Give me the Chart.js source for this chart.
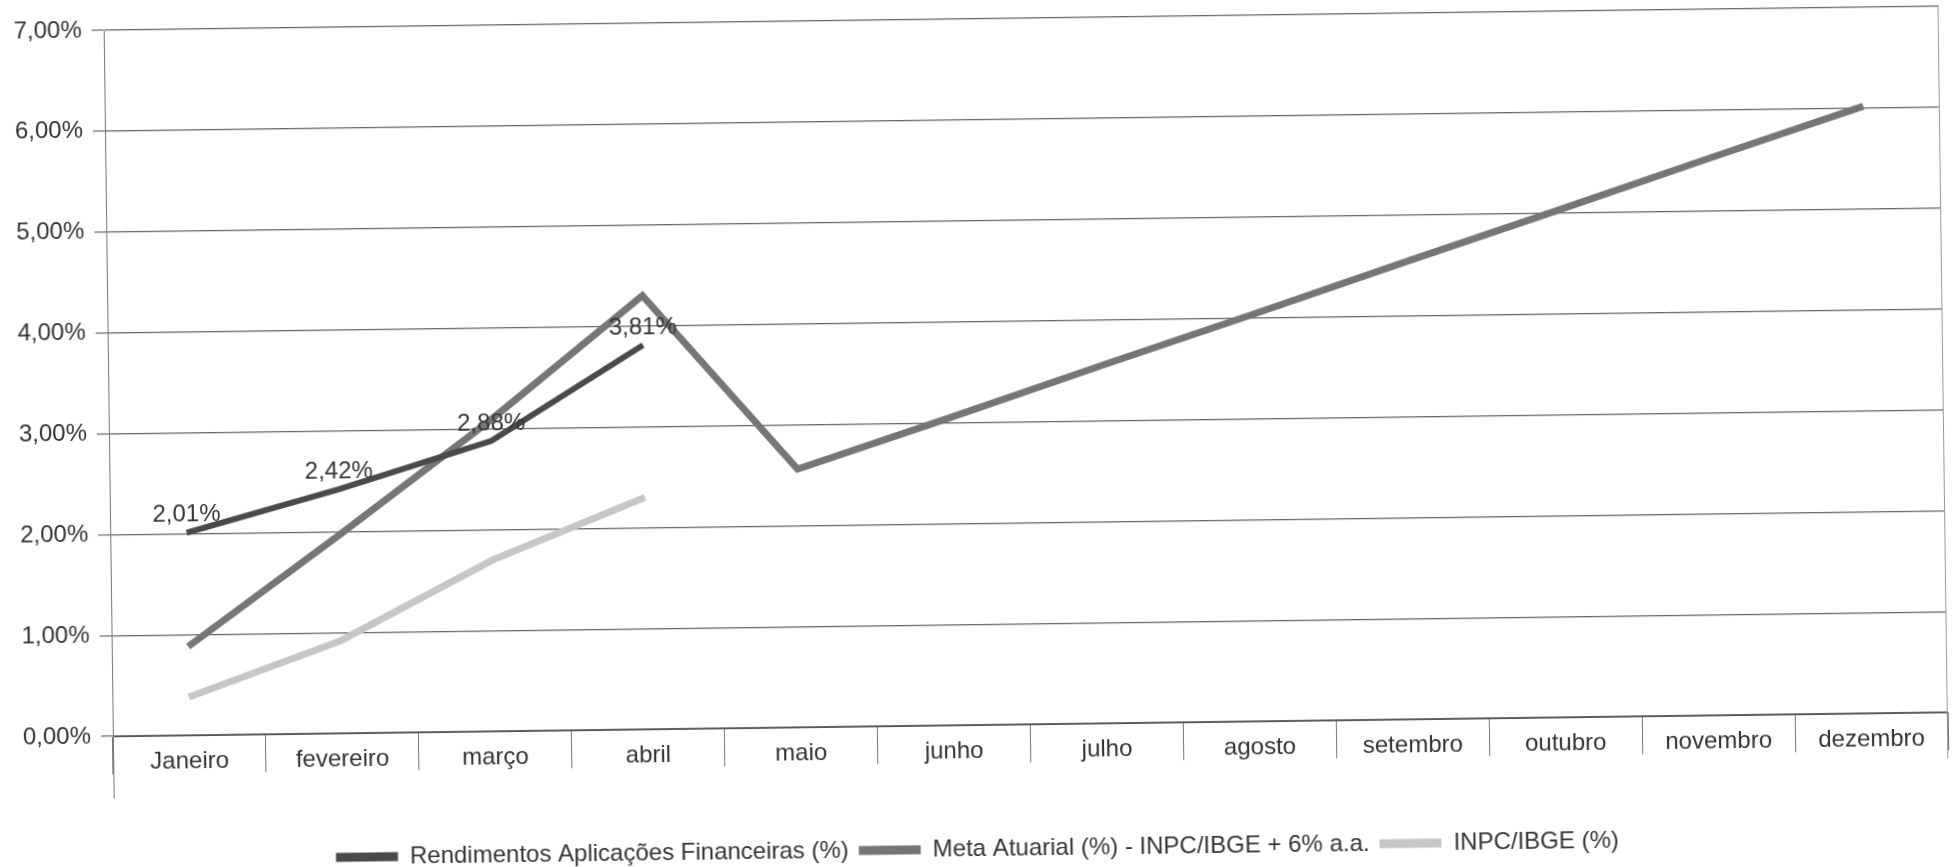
<!DOCTYPE html>
<html lang="pt-BR">
<head>
<meta charset="utf-8">
<title>Rendimentos x Meta Atuarial - 2019</title>
<script src="https://cdn.jsdelivr.net/npm/chart.js@4.4.1/dist/chart.umd.min.js"></script>
<style>
  html, body { margin: 0; padding: 0; background: #fff; overflow: hidden; }
  /* a folha escaneada esta levemente girada */
  #wrap { width: 1952px; height: 867px; transform: rotate(-0.75deg); transform-origin: 50% 50%; }
</style>
</head>
<body>
<div id="wrap"><canvas id="grafico" width="1952" height="867"></canvas></div>
<script>
// ---------- dados ----------
const meses = ["Janeiro", "fevereiro", "março", "abril", "maio", "junho",
    "julho", "agosto", "setembro", "outubro", "novembro", "dezembro"];

const rendimentos = [2.01, 2.42, 2.88, 3.81, null, null, null, null, null, null, null, null];
const metaAtuarial = [0.88, 1.97, 3.09, 4.30, 2.56, 3.05, 3.55, 4.04, 4.54, 5.03, 5.53, 6.02];
const inpc = [0.38, 0.92, 1.70, 2.30, null, null, null, null, null, null, null, null];

const ticksY = [0, 1, 2, 3, 4, 5, 6, 7];

const FONTE = '"Liberation Sans", Arial, sans-serif';

function formatar(v) {
    return v.toFixed(2).replace(".", ",") + "%";
}

// rotulos de dados da serie de rendimentos
const rotulosDados = {
    id: "rotulosDados",
    afterDatasetsDraw(chart) {
        const meta = chart.getDatasetMeta(0);
        const ctx = chart.ctx;
        ctx.save();
        ctx.font = "24px " + FONTE;
        ctx.fillStyle = "#333";
        ctx.textAlign = "center";
        ctx.textBaseline = "alphabetic";
        meta.data.forEach((pt, i) => {
            const v = rendimentos[i];
            if (v === null) return;
            ctx.fillText(formatar(v), pt.x, pt.y - 11);
        });
        ctx.restore();
    },
};

// bordas verticais da area do grafico, que descem ate os rotulos
const bordas = {
    id: "bordas",
    afterDraw(chart) {
        const a = chart.chartArea;
        const ctx = chart.ctx;
        ctx.save();
        ctx.lineWidth = 1;
        ctx.strokeStyle = "#777";
        ctx.beginPath();
        ctx.moveTo(a.left + 0.5, a.top);
        ctx.lineTo(a.left + 0.5, a.bottom + 62);
        ctx.stroke();
        ctx.strokeStyle = "#999";
        ctx.beginPath();
        ctx.moveTo(a.right - 0.5, a.top);
        ctx.lineTo(a.right - 0.5, a.bottom + 46);
        ctx.stroke();
        ctx.restore();
    },
};

Chart.defaults.font.family = FONTE;

new Chart(document.getElementById("grafico"), {
    type: "line",
    data: {
        labels: meses,
        datasets: [
            {
                label: "Rendimentos Aplicações Financeiras (%)",
                data: rendimentos,
                borderColor: "#4a4a4a",
                backgroundColor: "#4a4a4a",
                borderWidth: 6,
                pointRadius: 0,
                tension: 0,
                borderJoinStyle: "miter",
            },
            {
                label: "Meta Atuarial (%) - INPC/IBGE + 6% a.a.",
                data: metaAtuarial,
                borderColor: "#767676",
                backgroundColor: "#767676",
                borderWidth: 7,
                pointRadius: 0,
                tension: 0,
                borderJoinStyle: "miter",
            },
            {
                label: "INPC/IBGE (%)",
                data: inpc,
                borderColor: "#c6c6c6",
                backgroundColor: "#c6c6c6",
                borderWidth: 7,
                pointRadius: 0,
                tension: 0,
            },
        ],
    },
    options: {
        responsive: false,
        animation: false,
        devicePixelRatio: 1,
        layout: { padding: { top: 19, right: 8, left: 0, bottom: -4 } },
        scales: {
            x: {
                offset: true,
                grid: { offset: true, drawOnChartArea: false, tickLength: 38, color: "#777", lineWidth: 1 },
                border: { display: true, color: "#555", width: 1 },
                ticks: {
                    padding: -26,
                    autoSkip: false,
                    maxRotation: 0,
                    color: "#333",
                    font: { size: 24 },
                },
                afterFit: (s) => { s.height = 102; },
            },
            y: {
                min: 0,
                max: 7,
                afterBuildTicks: (s) => { s.ticks = ticksY.map((v) => ({ value: v })); },
                ticks: {
                    padding: 10,
                    color: "#333",
                    font: { size: 24 },
                    callback: (v) => formatar(v),
                },
                grid: { color: "#666", lineWidth: 1.2, tickLength: 12 },
                border: { display: true, color: "#777", width: 1 },
                afterFit: (s) => { s.width = 109; s.paddingTop = 0; s.paddingBottom = 0; },
            },
        },
        plugins: {
            tooltip: { enabled: false },
            legend: {
                position: "bottom",
                labels: {
                    boxWidth: 62,
                    boxHeight: 9,
                    padding: 10,
                    color: "#333",
                    font: { size: 24 },
                    generateLabels: (chart) =>
                        Chart.defaults.plugins.legend.labels.generateLabels(chart)
                            .map((l) => Object.assign(l, { lineWidth: 0 })),
                },
            },
        },
    },
    plugins: [rotulosDados, bordas],
});
</script>
</body>
</html>
